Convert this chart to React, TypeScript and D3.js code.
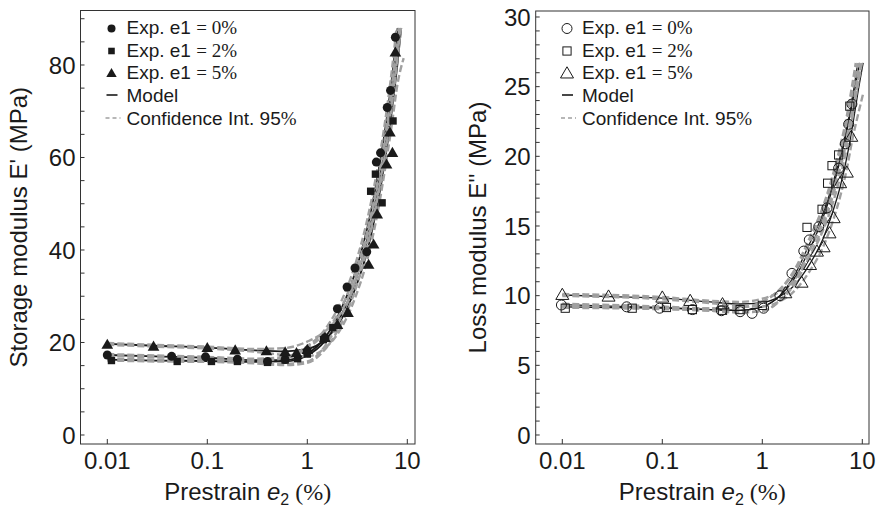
import React from "react";
import * as d3 from "d3";

type P = [number, number];

// ---------- Left panel: Storage modulus E' (MPa) ----------
const L_EXP0: P[] = [[0.01,17.3],[0.044,17.0],[0.096,16.9],[0.2,16.4],[0.4,15.9],[0.6,16.3],[1.0,18.2],[1.5,21.0],[2.0,27.3],[2.5,32.0],[3.0,36.1],[3.93,39.6],[4.9,59.0],[5.4,61.0],[6.3,70.8],[6.8,74.5],[7.6,86.0]];
const L_EXP2: P[] = [[0.011,16.1],[0.05,15.9],[0.11,15.9],[0.2,15.9],[0.4,15.7],[0.6,16.2],[0.8,16.5],[1.0,17.5],[1.45,20.6],[1.8,23.2],[4.3,52.7],[4.8,56.4],[5.6,50.2],[7.2,67.9]];
const L_EXP5: P[] = [[0.01,19.5],[0.029,19.1],[0.1,18.8],[0.19,18.3],[0.39,18.1],[0.6,17.9],[0.78,17.7],[1.0,18.4],[1.5,21.0],[2.0,23.8],[2.55,26.4],[4.1,36.8],[4.6,41.2],[5.0,47.7],[6.2,58.5],[6.7,65.4],[7.1,61.0],[7.6,82.7]];

const L_MODEL0: P[] = [[0.01,17.3],[0.03,17.0],[0.1,16.7],[0.3,16.2],[0.6,16.2],[1,17.6],[1.5,21.0],[2,25.5],[3,35.0],[4,45.0],[5,55.5],[6,66.0],[7,77.0],[8,88.0]];
const L_UP0: P[] = [[0.01,17.5],[0.03,17.2],[0.1,16.9],[0.3,16.5],[0.6,16.9],[1,19.2],[1.5,22.8],[2,27.2],[3,36.7],[4,46.8],[5,57.3],[6,67.8],[7,78.8],[7.8,88.0]];
const L_LO0: P[] = [[0.01,17.1],[0.03,16.8],[0.1,16.5],[0.3,15.9],[0.6,15.4],[1,15.9],[1.5,19.2],[2,23.8],[3,33.3],[4,43.2],[5,53.7],[6,64.2],[7,75.2],[8,86.2],[8.2,88.0]];
const L_MODEL2: P[] = [[0.01,16.3],[0.03,16.1],[0.1,16.0],[0.3,15.8],[0.6,15.9],[1,17.2],[1.5,20.3],[2,24.3],[3,33.0],[4,42.5],[5,52.5],[6,62.5],[7,73.0],[8,83.5],[8.45,88.0]];
const L_UP2: P[] = [[0.01,16.5],[0.03,16.3],[0.1,16.2],[0.3,16.1],[0.6,16.6],[1,18.8],[1.5,22.1],[2,26.0],[3,34.8],[4,44.3],[5,54.3],[6,64.3],[7,74.8],[8,85.3],[8.25,88.0]];
const L_LO2: P[] = [[0.01,16.1],[0.03,15.9],[0.1,15.8],[0.3,15.5],[0.6,15.1],[1,15.6],[1.5,18.5],[2,22.5],[3,31.2],[4,40.7],[5,50.7],[6,60.7],[7,71.2],[8,81.7],[8.65,88.0]];
const L_MODEL5: P[] = [[0.01,19.7],[0.03,19.3],[0.1,18.9],[0.3,18.3],[0.6,18.1],[1,18.6],[1.5,20.6],[2,23.6],[3,31.5],[4,40.0],[5,49.5],[6,59.5],[7,70.0],[8,80.5],[8.7,88.0]];
const L_UP5: P[] = [[0.01,19.9],[0.03,19.5],[0.1,19.1],[0.3,18.6],[0.6,18.8],[1,20.2],[1.5,22.4],[2,25.3],[3,33.3],[4,41.8],[5,51.3],[6,61.3],[7,71.8],[8,82.3],[8.5,88.0]];
const L_LO5: P[] = [[0.01,19.5],[0.03,19.1],[0.1,18.7],[0.3,18.0],[0.6,17.3],[1,17.0],[1.5,18.8],[2,21.8],[3,29.6],[4,38.1],[5,47.6],[6,57.6],[7,67.1],[8,76.0],[9.2,81.5]];

// ---------- Right panel: Loss modulus E'' (MPa) ----------
const R_EXP0: P[] = [[0.0098,9.33],[0.044,9.2],[0.094,9.1],[0.2,9.0],[0.39,8.92],[0.6,8.85],[0.79,8.73],[1.03,9.1],[1.5,10.0],[1.98,11.6],[2.6,13.2],[2.95,14.0],[3.67,14.95],[4.44,16.3],[5.8,19.15],[6.77,20.9],[7.3,22.3],[7.87,23.75]];
const R_EXP2: P[] = [[0.0107,9.1],[0.05,9.1],[0.11,9.15],[0.2,9.0],[0.4,8.95],[0.6,9.0],[1.0,9.3],[2.8,14.9],[3.96,16.2],[4.5,18.07],[4.98,19.33],[5.8,20.1],[7.5,23.6]];
const R_EXP5: P[] = [[0.01,10.05],[0.029,9.93],[0.1,9.86],[0.19,9.62],[0.4,9.38],[1.7,10.17],[2.47,10.93],[3.0,12.2],[3.52,13.16],[4.1,13.47],[4.7,14.47],[5.17,15.56],[6.0,18.07],[7.0,18.83],[7.76,21.4]];

const R_MODEL0: P[] = [[0.01,9.35],[0.03,9.25],[0.1,9.15],[0.3,9.0],[0.6,8.95],[1,9.2],[1.5,10.0],[2,11.2],[3,13.8],[4,15.8],[5,17.9],[6,20.0],[7,22.1],[8,24.3],[9,26.7]];
const R_UP0: P[] = [[0.01,9.42],[0.1,9.22],[0.3,9.08],[0.6,9.15],[1,9.55],[1.5,10.45],[2,11.6],[3,14.2],[4,16.3],[5,18.5],[6,20.7],[7,22.9],[8,25.3],[8.6,26.7]];
const R_LO0: P[] = [[0.01,9.28],[0.1,9.08],[0.3,8.92],[0.6,8.8],[1,8.9],[1.5,9.65],[2,10.8],[3,13.3],[4,15.3],[5,17.3],[6,19.3],[7,21.4],[8,23.5],[9.4,26.7]];
const R_MODEL2: P[] = [[0.01,9.2],[0.03,9.15],[0.1,9.1],[0.3,9.0],[0.6,8.95],[1,9.2],[1.5,10.0],[2,11.0],[3,13.4],[4,15.5],[5,17.6],[6,19.7],[7,21.8],[8,23.9],[9.4,26.7]];
const R_UP2: P[] = [[0.01,9.27],[0.1,9.17],[0.3,9.08],[0.6,9.15],[1,9.55],[1.5,10.45],[2,11.45],[3,13.9],[4,16.1],[5,18.2],[6,20.3],[7,22.5],[8,24.7],[9,26.7]];
const R_LO2: P[] = [[0.01,9.13],[0.1,9.03],[0.3,8.92],[0.6,8.8],[1,8.9],[1.5,9.65],[2,10.6],[3,12.9],[4,14.9],[5,17.0],[6,19.1],[7,21.1],[8,23.1],[9.9,26.7]];
const R_MODEL5: P[] = [[0.01,10.05],[0.03,9.93],[0.1,9.82],[0.3,9.55],[0.6,9.4],[1,9.5],[1.5,9.95],[2,10.6],[3,12.3],[4,14.0],[5,15.9],[6,17.8],[7,19.9],[8,22.2],[9,24.5],[10.2,26.7]];
const R_UP5: P[] = [[0.01,10.12],[0.1,9.9],[0.3,9.63],[0.6,9.55],[1,9.78],[1.5,10.3],[2,11.0],[3,12.8],[4,14.6],[5,16.5],[6,18.5],[7,20.6],[8,22.9],[9,25.2],[9.8,26.7]];
const R_LO5: P[] = [[0.01,9.98],[0.1,9.74],[0.3,9.47],[0.6,9.25],[1,9.22],[1.5,9.6],[2,10.2],[3,11.8],[4,13.4],[5,15.2],[6,17.1],[7,19.1],[8,21.3],[9,22.9],[10.2,24.5]];

const X_TICKS = [0.01, 0.1, 1, 10];
const X_TICK_LABELS = ["0.01", "0.1", "1", "10"];
const L_Y_TICKS = d3.range(0, 91, 5);
const L_Y_LABELS = [0, 20, 40, 60, 80];
const R_Y_TICKS = d3.range(0, 31, 1);
const R_Y_LABELS = [0, 5, 10, 15, 20, 25, 30];
const LEGEND_E1 = ["0", "2", "5"];

const SANS = "'Liberation Sans', Arial, sans-serif";
const SERIF = "'Liberation Serif', 'Times New Roman', serif";
const GRAY = "#a0a0a0";
const INK = "#1a1a1a";

type Shape = "circle" | "square" | "triangle";

function Marker({ shape, x, y, filled, s }: { shape: Shape; x: number; y: number; filled: boolean; s: number }) {
  const fill = filled ? INK : "none";
  const stroke = INK;
  const sw = filled ? 0 : 1;
  if (shape === "circle") return <circle cx={x} cy={y} r={s * 0.5} fill={fill} stroke={stroke} strokeWidth={sw} />;
  if (shape === "square") {
    const a = s * 0.82;
    return <rect x={x - a / 2} y={y - a / 2} width={a} height={a} fill={fill} stroke={stroke} strokeWidth={sw} />;
  }
  const w = s * 1.3, h = s * 1.12;
  return <path d={`M${x},${y - h * 0.6}L${x + w / 2},${y + h * 0.4}L${x - w / 2},${y + h * 0.4}Z`} fill={fill} stroke={stroke} strokeWidth={sw} />;
}

type PanelProps = {
  id: string;
  left: number; right: number; top: number; bottom: number;
  xDom: [number, number]; yDom: [number, number];
  yTicks: number[]; yLabels: number[];
  exps: P[][]; models: P[][]; cis: P[][];
  filled: boolean; markerSize: number; modelWidth: number;
  yTitle: string; yTitleX: number;
  legendX: number;
};

function Panel(p: PanelProps) {
  const x = d3.scaleLog().domain(p.xDom).range([p.left, p.right]);
  const y = d3.scaleLinear().domain(p.yDom).range([p.bottom, p.top]);
  const line = d3.line<P>().x(d => x(d[0])).y(d => y(d[1])).curve(d3.curveMonotoneX);
  const shapes: Shape[] = ["circle", "square", "triangle"];
  const cx = (p.left + p.right) / 2;
  const cy = (p.top + p.bottom) / 2;
  const legendRows = [27.5, 50, 72.5, 95, 118];
  return (
    <g>
      <defs>
        <clipPath id={p.id + "clip"}>
          <rect x={p.left} y={p.top} width={p.right - p.left} height={p.bottom - p.top} />
        </clipPath>
      </defs>
      <g clipPath={`url(#${p.id}clip)`}>
        {p.models.map((m, i) => (
          <path key={"m" + i} d={line(m) || ""} fill="none" stroke={INK} strokeWidth={p.modelWidth} />
        ))}
        {p.cis.map((c, i) => (
          <path key={"c" + i} d={line(c) || ""} fill="none" stroke={GRAY} strokeWidth={2.4} strokeDasharray="7 3" />
        ))}
        {p.exps.map((s, i) =>
          s.map((d, j) => (
            <Marker key={`e${i}-${j}`} shape={shapes[i]} x={x(d[0])} y={y(d[1])} filled={p.filled} s={p.markerSize} />
          ))
        )}
      </g>
      <rect x={p.left} y={p.top} width={p.right - p.left} height={p.bottom - p.top} fill="none" stroke="#333" strokeWidth={1} />
      {p.yTicks.map(t => (
        <line key={"yt" + t} x1={p.left} x2={p.left + 4} y1={y(t)} y2={y(t)} stroke="#333" strokeWidth={1} />
      ))}
      {p.yLabels.map(t => (
        <text key={"yl" + t} x={p.left - 5} y={y(t)} dy="0.36em" textAnchor="end" fontFamily={SANS} fontSize={24} fill={INK}>
          {t}
        </text>
      ))}
      {X_TICKS.map((t, i) => (
        <g key={"xt" + t}>
          <line x1={x(t)} x2={x(t)} y1={p.bottom} y2={p.bottom - 5} stroke="#333" strokeWidth={1} />
          <text x={x(t)} y={469} textAnchor="middle" fontFamily={SANS} fontSize={24} fill={INK}>
            {X_TICK_LABELS[i]}
          </text>
        </g>
      ))}
      <text x={cx} y={500} textAnchor="middle" fontFamily={SANS} fontSize={24} fill={INK}>
        Prestrain <tspan fontStyle="italic">e</tspan>
        <tspan fontSize={16} dy={5}>2</tspan>
        <tspan dy={-5} fontFamily={SERIF}> (%)</tspan>
      </text>
      <text transform={`translate(${p.yTitleX},${cy}) rotate(-90)`} textAnchor="middle" fontFamily={SANS} fontSize={24} fill={INK}>
        {p.yTitle}
      </text>
      {LEGEND_E1.map((v, i) => (
        <g key={"lg" + i}>
          <Marker shape={shapes[i]} x={p.legendX - 15} y={legendRows[i] + 1} filled={p.filled} s={p.filled ? 8 : 10} />
          <text x={p.legendX} y={legendRows[i]} dy="0.36em" fontFamily={SANS} fontSize={19} fill={INK}>
            Exp. e1 <tspan fontFamily={SERIF}>= {v}%</tspan>
          </text>
        </g>
      ))}
      <line x1={p.legendX - 20} x2={p.legendX - 9} y1={legendRows[3]} y2={legendRows[3]} stroke={INK} strokeWidth={1.6} />
      <text x={p.legendX} y={legendRows[3]} dy="0.36em" fontFamily={SANS} fontSize={19} fill={INK}>Model</text>
      <line x1={p.legendX - 21} x2={p.legendX - 6} y1={legendRows[4]} y2={legendRows[4]} stroke={GRAY} strokeWidth={1.6} strokeDasharray="4 3" />
      <text x={p.legendX} y={legendRows[4]} dy="0.36em" fontFamily={SANS} fontSize={19} fill={INK}>
        Confidence Int. 95<tspan fontFamily={SERIF}>%</tspan>
      </text>
    </g>
  );
}

export default function App() {
  return (
    <svg width={877} height={510} style={{ display: "block", position: "absolute", left: 0, top: 0 }}>
      <rect width={877} height={510} fill="#fff" />
      <Panel
        id="L"
        left={80.5} right={415} top={10.5} bottom={444}
        xDom={[Math.pow(10, -2.268), Math.pow(10, 1.077)]}
        yDom={[-1.946, 91.78]}
        yTicks={L_Y_TICKS} yLabels={L_Y_LABELS}
        exps={[L_EXP0, L_EXP2, L_EXP5]}
        models={[L_MODEL0, L_MODEL2, L_MODEL5]}
        cis={[L_UP0, L_LO0, L_UP2, L_LO2, L_UP5, L_LO5]}
        filled={true} markerSize={9} modelWidth={1.8}
        yTitle="Storage modulus E' (MPa)" yTitleX={27}
        legendX={126.5}
      />
      <Panel
        id="R"
        left={535.7} right={869} top={11} bottom={444}
        xDom={[Math.pow(10, -2.266), Math.pow(10, 1.067)]}
        yDom={[-0.646, 30.43]}
        yTicks={R_Y_TICKS} yLabels={R_Y_LABELS}
        exps={[R_EXP0, R_EXP2, R_EXP5]}
        models={[R_MODEL0, R_MODEL2, R_MODEL5]}
        cis={[R_UP0, R_LO0, R_UP2, R_LO2, R_UP5, R_LO5]}
        filled={false} markerSize={10} modelWidth={1.3}
        yTitle={"Loss modulus E'' (MPa)"} yTitleX={486}
        legendX={582}
      />
    </svg>
  );
}
